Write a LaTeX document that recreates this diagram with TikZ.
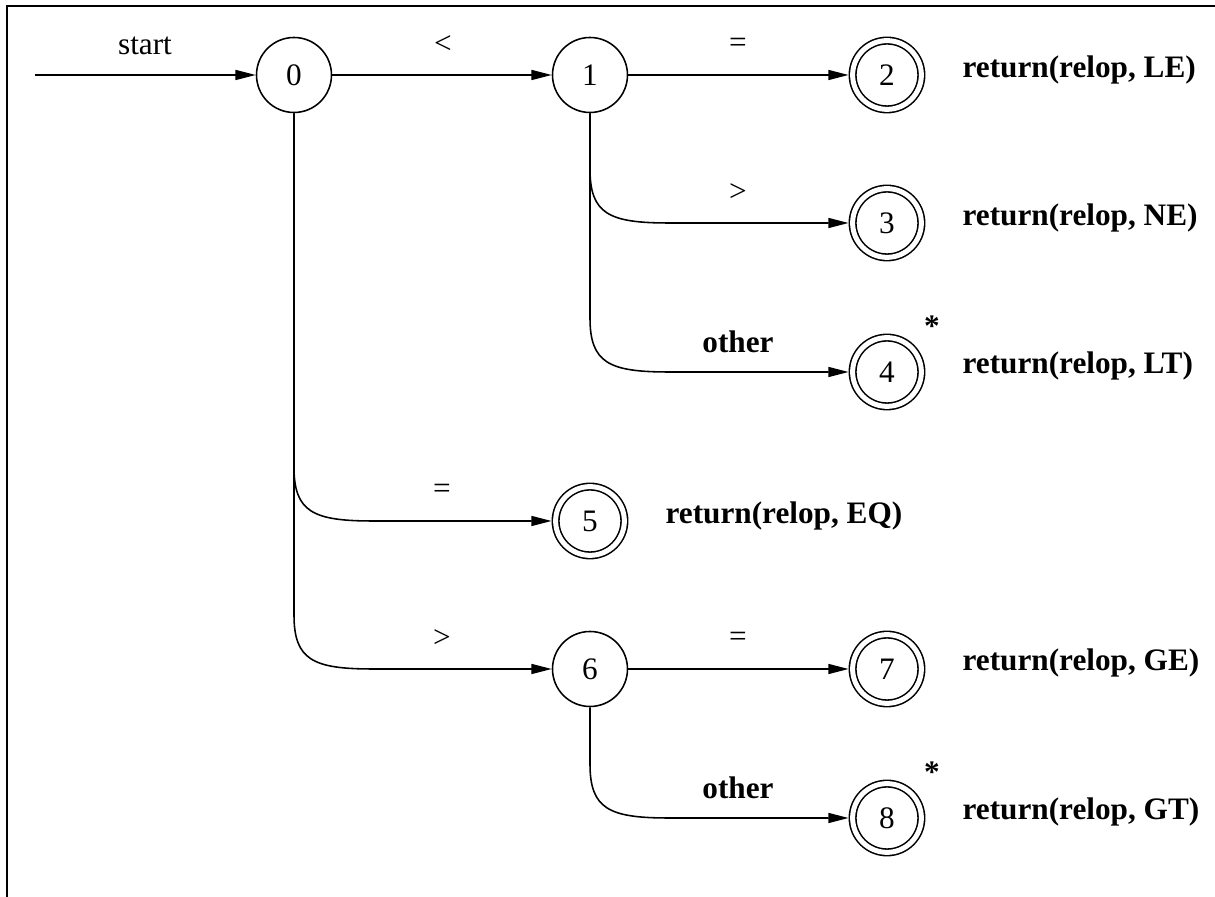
\documentclass[tikz,border=0pt]{standalone}
\usepackage{fontspec}
\setmainfont{Liberation Serif}
\usetikzlibrary{arrows.meta,calc}
\tikzset{
  state/.style={circle, draw, line width=0.5pt, minimum size=24pt, inner sep=0pt},
  accept/.style={state, minimum size=22pt, double, double distance=1.6pt, outer sep=1.3pt},
  edge/.style={line width=0.5pt, -{Triangle[length=6.5pt,width=3.2pt]}},
  ret/.style={anchor=west, inner sep=0pt, font=\bfseries},
  lbl/.style={inner sep=0pt},
  branch/.style={to path={-- ($(\tikztostart|-\tikztotarget)+(0,-54)$)
    .. controls ($(\tikztostart|-\tikztotarget)+(0,-9)$) and ($(\tikztostart|-\tikztotarget)+(19,0)$)
    .. ($(\tikztostart|-\tikztotarget)+(79,0)$) -- (\tikztotarget)}}
}
\begin{document}
\begin{tikzpicture}[x=0.32pt, y=-0.32pt]
  \useasboundingbox (0,0) rectangle (1215,897);
  \draw[line width=0.7pt] (7,897) -- (7,6) -- (1215,6);
  % states
  \node[state] (n0) at (294,75) {0};
  \node[state] (n1) at (590,75) {1};
  \node[accept] (n2) at (887,75) {2};
  \node[accept] (n3) at (887,223) {3};
  \node[accept] (n4) at (887,372) {4};
  \node[accept] (n5) at (590,521) {5};
  \node[state] (n6) at (590,669) {6};
  \node[accept] (n7) at (887,669) {7};
  \node[accept] (n8) at (887,818) {8};
  \coordinate (in) at (35,75);
  % transitions
  \draw[edge] (in) -- (n0);
  \draw[edge] (n0) -- (n1);
  \draw[edge] (n1) -- (n2);
  \draw[edge] (n1.south) to[branch] (n3);
  \draw[edge] (n1.south) to[branch] (n4);
  \draw[edge] (n0.south) to[branch] (n5);
  \draw[edge] (n0.south) to[branch] (n6);
  \draw[edge] (n6) -- (n7);
  \draw[edge] (n6.south) to[branch] (n8);
  % edge labels
  \node[lbl] (lstart) at (145,46) {start};
  \node[lbl] (l01) at (443,45) {<};
  \node[lbl] (l12) at (738,45) {=};
  \node[lbl] (l13) at (738,193) {>};
  \node[lbl, font=\bfseries] (l14) at (738,342) {other};
  \node[lbl] (l05) at (442,491) {=};
  \node[lbl] (l06) at (442,639) {>};
  \node[lbl] (l67) at (738,639) {=};
  \node[lbl, font=\bfseries] (l68) at (738,788) {other};
  % retract marks
  \node[lbl, font=\bfseries] (s4) at (932,326) {*};
  \node[lbl, font=\bfseries] (s8) at (932,772) {*};
  % actions
  \node[ret] (r2) at (962,70) {return(relop, LE)};
  \node[ret] (r3) at (962,218) {return(relop, NE)};
  \node[ret] (r4) at (962,366) {return(relop, LT)};
  \node[ret] (r5) at (665,516) {return(relop, EQ)};
  \node[ret] (r7) at (962,663) {return(relop, GE)};
  \node[ret] (r8) at (962,812) {return(relop, GT)};
\end{tikzpicture}
\end{document}
